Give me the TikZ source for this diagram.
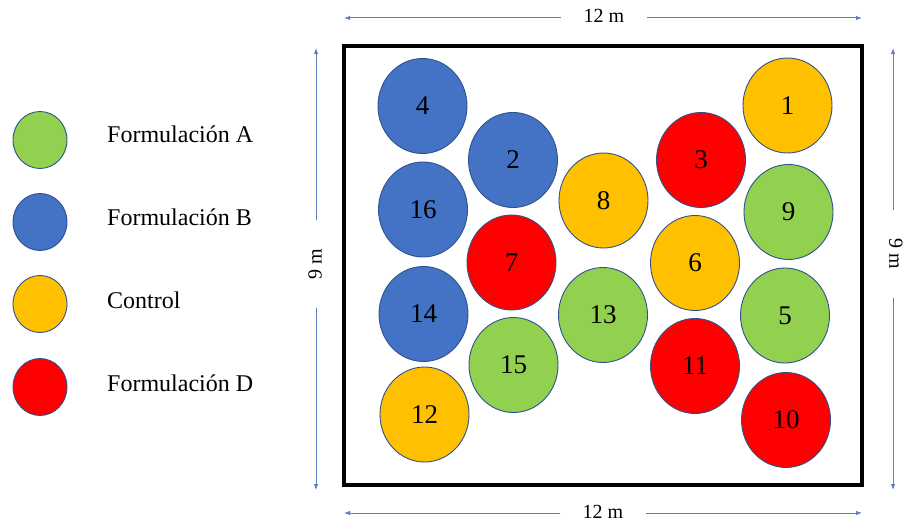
\documentclass[tikz,border=0pt]{standalone}
\usepackage{fontspec}
\setmainfont{LiberationSerif}[Extension=.ttf, UprightFont=*-Regular, BoldFont=*-Bold, ItalicFont=*-Italic]
\usetikzlibrary{shapes.geometric,arrows.meta}
\definecolor{cgreen}{HTML}{92D050}
\definecolor{cblue}{HTML}{4472C4}
\definecolor{cgold}{HTML}{FFC000}
\definecolor{cred}{HTML}{FF0000}
\definecolor{cedge}{HTML}{2F528F}
\definecolor{dimc}{HTML}{5B7FBF}
\begin{document}
\begin{tikzpicture}[x=1pt,y=-1pt,
  plot/.style={ellipse, draw=cedge, line width=0.9pt, minimum width=89pt, minimum height=95pt, inner sep=0pt, font=\fontsize{27}{30}\selectfont},
  legc/.style={ellipse, draw=cedge, line width=0.9pt, minimum width=54pt, minimum height=57pt, inner sep=0pt},
  legt/.style={anchor=base west, inner sep=0pt, font=\fontsize{24}{28}\selectfont},
  dim/.style={draw=dimc, line width=1pt},
  dimlbl/.style={inner sep=0pt, font=\fontsize{20}{24}\selectfont},
  tip/.style={-{Latex[length=6pt,width=4.5pt]}}]
\useasboundingbox[fill=white] (0,0) rectangle (904,521);

% field
\draw[line width=3.5pt] (344,46) rectangle (862,485);

% legend
\node[legc, fill=cgreen] (lA) at (40,140) {};
\node[legc, fill=cblue]  (lB) at (40,222) {};
\node[legc, fill=cgold]  (lC) at (40,304) {};
\node[legc, fill=cred]   (lD) at (40,387) {};
\node[legt] (tA) at (107,143) {Formulación A};
\node[legt] (tB) at (107,226) {Formulación B};
\node[legt] (tC) at (107,308) {Control};
\node[legt] (tD) at (107,391) {Formulación D};

% plots
\node[plot, fill=cblue] (p4)  at (422.5,106) {4};
\node[plot, fill=cblue] (p2)  at (513,160) {2};
\node[plot, fill=cblue] (p16) at (423,209.5) {16};
\node[plot, fill=cred]  (p7)  at (511.5,262.5) {7};
\node[plot, fill=cblue] (p14) at (423.5,314) {14};
\node[plot, fill=cgreen] (p15) at (513.5,365) {15};
\node[plot, fill=cgold] (p12) at (424.5,414.5) {12};
\node[plot, fill=cgold] (p8)  at (603.5,200.5) {8};
\node[plot, fill=cgreen] (p13) at (603,315) {13};
\node[plot, fill=cred]  (p3)  at (701,160) {3};
\node[plot, fill=cgold] (p6)  at (695,263) {6};
\node[plot, fill=cred]  (p11) at (695,366) {11};
\node[plot, fill=cgold] (p1)  at (787.5,105.5) {1};
\node[plot, fill=cgreen] (p9)  at (788.5,212) {9};
\node[plot, fill=cgreen] (p5)  at (785,315.5) {5};
\node[plot, fill=cred]  (p10) at (786,420) {10};

% dimension: top
\coordinate (ta) at (344,18);
\coordinate (tb) at (561,18);
\coordinate (tc) at (647,18);
\coordinate (td) at (862,18);
\draw[dim,tip] (tb) -- (ta);
\draw[dim,tip] (tc) -- (td);
\node[dimlbl, anchor=base] (tl) at (604,23) {12 m};

% dimension: bottom
\coordinate (ba) at (344,513);
\coordinate (bb) at (560,513);
\coordinate (bc) at (646,513);
\coordinate (bd) at (862,513);
\draw[dim,tip] (bb) -- (ba);
\draw[dim,tip] (bc) -- (bd);
\node[dimlbl, anchor=base] (bl) at (603,518) {12 m};

% dimension: left
\coordinate (la) at (316,48);
\coordinate (lb) at (316,220);
\coordinate (lc) at (316,308);
\coordinate (ld) at (316,490);
\draw[dim,tip] (lb) -- (la);
\draw[dim,tip] (lc) -- (ld);
\node[dimlbl, rotate=90] (ll) at (315,264) {9 m};

% dimension: right
\coordinate (ra) at (893,48);
\coordinate (rb) at (893,210);
\coordinate (rc) at (893,298);
\coordinate (rd) at (893,490);
\draw[dim,tip] (rb) -- (ra);
\draw[dim,tip] (rc) -- (rd);
\node[dimlbl, rotate=-90] (rl) at (896,254) {9 m};
\end{tikzpicture}
\end{document}
